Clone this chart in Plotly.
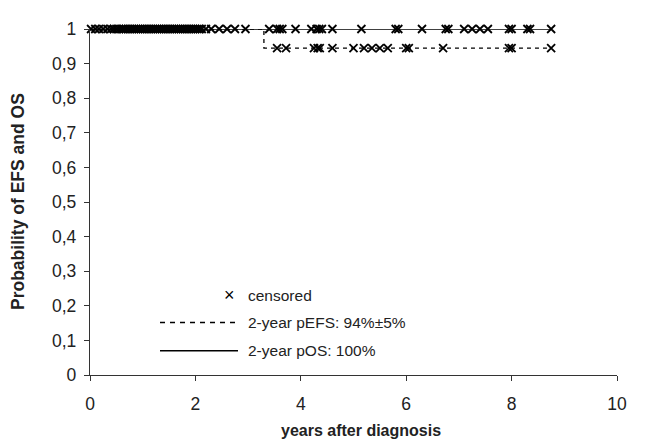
import plotly.graph_objects as go

# Data
os_times = [0, 8.75]
os_surv = [1, 1]
efs_times = [0, 3.3, 8.75]
efs_surv = [1, 0.945, 0.945]

cens_os = [0.02, 0.1, 0.17, 0.25, 0.33, 0.4, 0.45, 0.5, 0.55, 0.6, 0.64, 0.68, 0.72, 0.76,
           0.8, 0.84, 0.88, 0.92, 0.96, 1.0, 1.04, 1.08, 1.12, 1.16, 1.2, 1.24, 1.28, 1.32,
           1.36, 1.4, 1.44, 1.48, 1.52, 1.56, 1.6, 1.64, 1.68, 1.72, 1.76, 1.8, 1.84, 1.88,
           1.92, 1.96, 2.0, 2.04, 2.08, 2.12, 2.2, 2.3, 2.45, 2.6, 2.75, 2.95,
           3.4, 3.55, 3.6, 3.65, 3.9, 4.2, 4.3, 4.35, 4.4, 4.6, 5.15,
           5.8, 5.85, 6.3, 6.75, 6.8, 7.1, 7.25, 7.4, 7.55, 7.95, 8.0, 8.3, 8.35, 8.75]
cens_efs = [3.55, 3.72, 4.25, 4.32, 4.36, 4.6, 5.0, 5.2, 5.35, 5.5, 5.65, 6.0, 6.05,
            6.7, 7.95, 8.0, 8.75]
cens_efs_y = [0.945] * len(cens_efs)
cens_os_y = [1] * len(cens_os)

y_ticks = [0, 0.1, 0.2, 0.3, 0.4, 0.5, 0.6, 0.7, 0.8, 0.9, 1]
y_labels = ["0", "0,1", "0,2", "0,3", "0,4", "0,5", "0,6", "0,7", "0,8", "0,9", "1"]
x_ticks = [0, 2, 4, 6, 8, 10]

FONT = "Liberation Sans, Arial, sans-serif"

# page body has an 8px default margin: figure is sized/placed to compensate
W, H = 638, 436
L, R, T, B = 82, 29, 11, 69
PW, PH = W - L - R, H - T - B

fig = go.Figure()
fig.add_trace(go.Scatter(x=efs_times, y=efs_surv, mode="lines", line_shape="hv",
                         line=dict(color="black", width=1.3, dash="4px,4px"),
                         showlegend=False, cliponaxis=False))
fig.add_trace(go.Scatter(x=os_times, y=os_surv, mode="lines", line_shape="hv",
                         line=dict(color="black", width=1.6),
                         showlegend=False, cliponaxis=False))
fig.add_trace(go.Scatter(x=cens_os, y=cens_os_y, mode="markers",
                         marker=dict(symbol="x-thin-open", size=8, color="black",
                                     line=dict(width=1.8, color="black")),
                         showlegend=False, cliponaxis=False))
fig.add_trace(go.Scatter(x=cens_efs, y=cens_efs_y, mode="markers",
                         marker=dict(symbol="x-thin-open", size=8, color="black",
                                     line=dict(width=1.8, color="black")),
                         showlegend=False, cliponaxis=False))


def px_x(px):  # screen px -> paper x
    return (px - 8 - L) / PW


def px_y(py):  # screen px -> paper y
    return (H - B - (py - 8)) / PH


# legend drawn manually
fig.add_annotation(xref="paper", yref="paper", x=px_x(229), y=px_y(293),
                   xanchor="center", yanchor="middle",
                   text="×", showarrow=False, font=dict(size=18, color="black", family=FONT))
legend_items = [("censored", 293, None), ("2-year pEFS: 94%±5%", 321, "dash"),
                ("2-year pOS: 100%", 350, "solid")]
for text, py, dash in legend_items:
    yp = px_y(py)
    fig.add_annotation(xref="paper", yref="paper", x=px_x(246), y=yp,
                       xanchor="left", yanchor="middle",
                       text=text, showarrow=False,
                       font=dict(size=15.5, color="#222", family=FONT))
    if dash:
        fig.add_shape(type="line", xref="paper", yref="paper",
                      x0=px_x(160), x1=px_x(238), y0=yp, y1=yp,
                      line=dict(color="black", width=1.3 if dash == "dash" else 1.6,
                                dash="5px,5px" if dash == "dash" else "solid"))

# axis titles
fig.add_annotation(xref="paper", yref="paper", x=px_x(361), y=px_y(432),
                   xanchor="center", yanchor="middle",
                   text="<b>years after diagnosis</b>", showarrow=False,
                   font=dict(size=16, family=FONT, color="#222"))
fig.add_annotation(xref="paper", yref="paper", x=px_x(18), y=px_y(197),
                   xanchor="center", yanchor="middle",
                   text="<b>Probability of EFS and OS</b>", showarrow=False, textangle=-90,
                   font=dict(size=17.5, family=FONT, color="#222"))

fig.update_layout(
    width=W, height=H,
    margin=dict(l=L, r=R, t=T, b=B, pad=0),
    plot_bgcolor="white", paper_bgcolor="white",
    font=dict(family=FONT, color="#222", size=17),
    showlegend=False,
)
fig.update_xaxes(range=[0, 10], tickvals=x_ticks, showgrid=False, zeroline=False,
                 showline=True, linecolor="#333", linewidth=1.3,
                 ticks="outside", ticklen=5, tickcolor="#333", ticklabelstandoff=8,
                 tickfont=dict(size=17.5))
fig.update_yaxes(range=[0, 1], tickvals=y_ticks, ticktext=y_labels, showgrid=False,
                 zeroline=False, showline=True, linecolor="#333", linewidth=1.3,
                 ticks="outside", ticklen=5, tickcolor="#333", ticklabelstandoff=4,
                 tickfont=dict(size=17.5))

fig.write_html("out.html")
